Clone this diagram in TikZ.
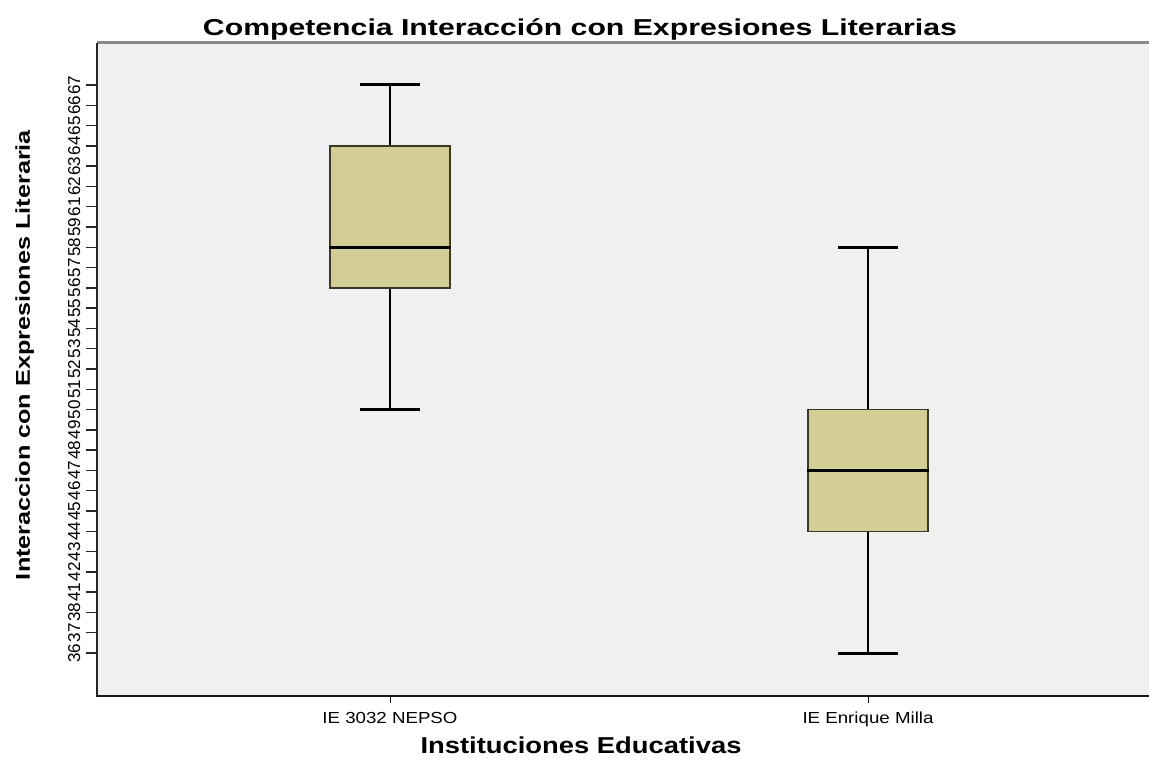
\documentclass[tikz,border=0pt]{standalone}
\usepackage{fontspec}
\setmainfont{Liberation Sans}
\definecolor{plotbg}{HTML}{F0F0F0}
\definecolor{boxfill}{HTML}{D2CE96}
\definecolor{boxedge}{HTML}{3A3826}
\definecolor{topframe}{HTML}{8A8A8A}
\begin{document}
\begin{tikzpicture}[x=1pt,y=-1pt,
  areafill/.style={fill=plotbg,draw=none},
  boxstyle/.style={fill=boxfill,draw=boxedge,line width=1.5pt},
  whisker/.style={draw=black,line width=1.5pt},
  capline/.style={draw=black,line width=3pt},
  medline/.style={draw=black,line width=3pt},
  ytick/.style={draw=black!85,line width=1.5pt},
  xtick/.style={draw=black,line width=1pt},
  ticklab/.style={rotate=90,anchor=base,inner sep=0pt,font=\fontsize{14}{16}\selectfont},
  catlab/.style={anchor=base,inner sep=0pt,font=\fontsize{16}{18}\selectfont},
  axtitle/.style={inner sep=0pt,font=\fontsize{23}{26}\selectfont\bfseries}]
\useasboundingbox (0,0) rectangle (1149,765);
% plot area
\fill[areafill] (97,43) rectangle (1149,696);
\draw[topframe,line width=3pt] (97,43) -- (1149,43);
\draw[black!85,line width=2pt] (97,43) -- (97,697);
\draw[black!90,line width=2.5pt] (96,696) -- (1149,696);
% y ticks and labels
\foreach \lab [count=\i from 0] in {36,37,38,41,42,43,44,45,46,47,48,49,50,51,52,53,54,55,56,57,58,59,61,62,63,64,65,66,67}{
  \pgfmathsetmacro{\yy}{653-20.2857*\i}
  \draw[ytick] (86,\yy) -- (97,\yy);
  \node[ticklab] (yl\i) at (80,\yy) {\resizebox{19pt}{12pt}{\lab}};
}
% x ticks and category labels
\coordinate (xa) at (390,696);
\coordinate (xb) at (868,696);
\draw[xtick] (xa) -- ++(0,7);
\draw[xtick] (xb) -- ++(0,7);
\node[catlab] (cat1) at (390,723) {\resizebox{135pt}{\height}{IE 3032 NEPSO}};
\node[catlab] (cat2) at (868,723) {\resizebox{131pt}{\height}{IE Enrique Milla}};
% titles
\node[axtitle,anchor=base] (title) at (580,36) {\resizebox{754pt}{\height}{Competencia Interacción con Expresiones Literarias}};
\node[axtitle,anchor=base] (xtitle) at (581,753) {\resizebox{321pt}{\height}{Instituciones Educativas}};
\node[axtitle,anchor=base,rotate=90] (ytitle) at (30,355) {\resizebox{450pt}{14.5pt}{Interaccion con Expresiones Literaria}};
% box 1: IE 3032
\coordinate (b1top) at (390,85);
\coordinate (b1bot) at (390,409.5);
\node[boxstyle,minimum width=120pt,minimum height=142pt,inner sep=0pt] (box1) at (390,216.8) {};
\draw[whisker] (box1.north) -- (b1top);
\draw[whisker] (box1.south) -- (b1bot);
\draw[capline] ([xshift=-30pt]b1top) -- ([xshift=30pt]b1top);
\draw[capline] ([xshift=-30pt]b1bot) -- ([xshift=30pt]b1bot);
\draw[medline] ([yshift=-30.4pt]box1.west) -- ([yshift=-30.4pt]box1.east);
% box 2: IE Enrique Milla
\coordinate (b2top) at (868,247.2);
\coordinate (b2bot) at (868,653);
\node[boxstyle,minimum width=120pt,minimum height=121.8pt,inner sep=0pt] (box2) at (868,470.4) {};
\draw[whisker] (box2.north) -- (b2top);
\draw[whisker] (box2.south) -- (b2bot);
\draw[capline] ([xshift=-30pt]b2top) -- ([xshift=30pt]b2top);
\draw[capline] ([xshift=-30pt]b2bot) -- ([xshift=30pt]b2bot);
\draw[medline] (box2.west) -- (box2.east);
\end{tikzpicture}
\end{document}
